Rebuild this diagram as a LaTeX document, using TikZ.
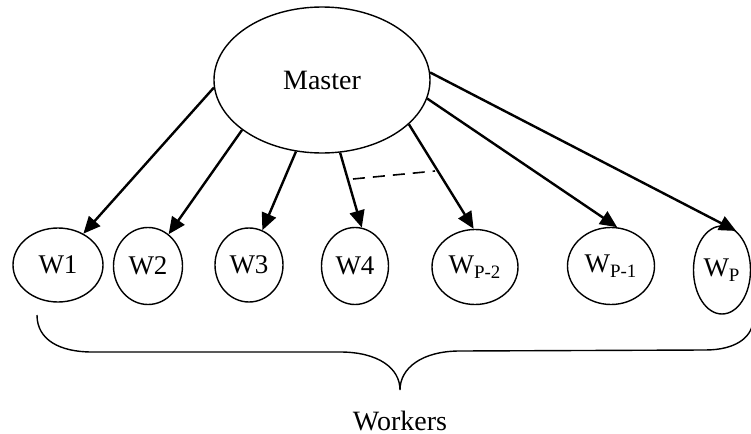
\documentclass[tikz,border=0pt]{standalone}
\usepackage{fontspec}
\setmainfont{Liberation Serif}
\usetikzlibrary{shapes.geometric,arrows.meta}

\begin{document}
\begin{tikzpicture}[x=0.5pt,y=-0.5pt]
		\tikzstyle{Master} = [ellipse, minimum width=108pt, minimum height=73pt, inner sep=0pt, text centered, draw=black, line width=0.7pt, font=\fontsize{14}{16}\selectfont]
		\tikzstyle{Worker} = [ellipse, inner sep=0pt, text centered, draw=black, line width=0.7pt, font=\fontsize{13.5}{15}\selectfont]
		\tikzstyle{arrow} = [line width=1.2pt,-{Triangle[length=8.5pt,width=7.5pt]}]
		\useasboundingbox (0,0) rectangle (751,434);
		
		\node (master) [Master] at (322,80) {Master};
		\node (w1) [Worker, minimum width=45pt, minimum height=37pt] at (58,265) {W1};
		\node (w2) [Worker, minimum width=34.5pt, minimum height=38.5pt] at (148,266) {W2};
		\node (w3) [Worker, minimum width=34pt, minimum height=37pt] at (249,265) {W3};
		\node (w4) [Worker, minimum width=33.5pt, minimum height=38.5pt] at (355,266) {W4};
		\node (wp2) [Worker, minimum width=43pt, minimum height=37.5pt] at (475,267) {W\textsubscript{P-2}};
		\node (wp1) [Worker, minimum width=43.5pt, minimum height=38.5pt] at (611,266) {W\textsubscript{P-1}};
		\node (wp) [Worker, minimum width=28.5pt, minimum height=44pt] at (722,270) {W\textsubscript{P}};
		\node (workers) [font=\fontsize{14}{16}\selectfont] at (400,421) {Workers};
		
		\draw [arrow] (master.184) -- (w1.51);
		\draw [arrow] (master.212) -- (w2.57);
		\draw [arrow] (master.250) -- (w3.69);
		\draw [arrow] (master.284) -- (w4.80);
		\draw [arrow] (master.333) -- (wp2.92);
		\draw [arrow] (master.350) -- (wp1.81);
		\draw [arrow] (master.4) -- (wp.70);
		
		% the workers left out
		\coordinate (gapL) at (353,179);
		\coordinate (gapR) at (435,171);
		\draw [line width=0.8pt, dash pattern=on 6pt off 4pt] (gapL) -- (gapR);
		
		% brace under the workers
		\draw [line width=0.7pt] (37,315) .. controls (37,340) and (60,352) .. (92,352) -- (340,352)
			.. controls (378,352) and (400,368) .. (400,390)
			.. controls (400,368) and (422,351) .. (460,351) -- (705,350)
			.. controls (735,350) and (751,338) .. (753,322);
		\end{tikzpicture}
\end{document}
